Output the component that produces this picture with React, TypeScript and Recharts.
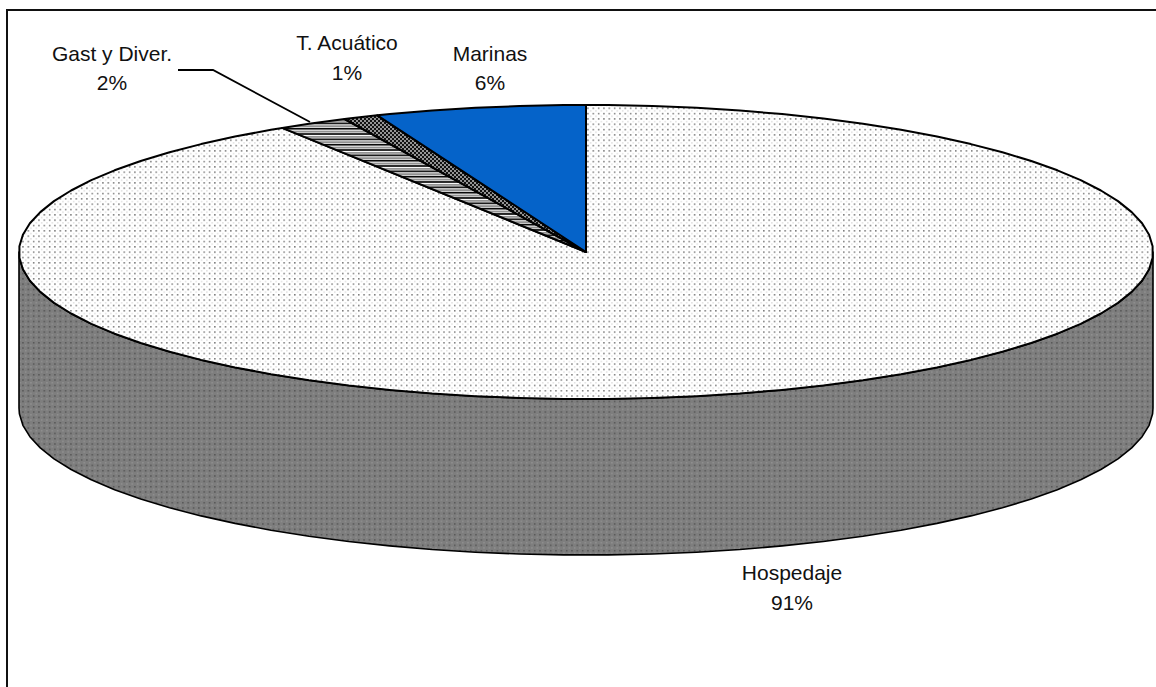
import React from 'react';
import { PieChart, Pie } from 'recharts';

const categories = ['Hospedaje', 'Gast y Diver.', 'T. Acuático', 'Marinas'];
const shares = [91, 2, 1, 6];

const chartData = categories.map((name, i) => ({ name, value: shares[i] }));

const WIDTH = 1156;
const HEIGHT = 687;
const CX = 586;
const CY = 252;
const RADIUS = 567;
const TILT = 147 / 567;
const DEPTH = 156;
// the rim is a polygon, with flat facets centred on the axes
const FACET = 4.5;
const FACET_SHIFT = 2.25;

const sliceFills = ['url(#dots)', 'url(#stripes)', 'url(#checks)', '#0563C9'];

// where each two-line label sits: centre x, first and second baseline
const labelSpots = [
  { x: 792, y1: 580, y2: 610 },
  { x: 112, y1: 61, y2: 90 },
  { x: 347, y1: 50, y2: 80 },
  { x: 490, y1: 61, y2: 90 },
];

const toPoint = (angle: number, yOffset = 0) => {
  const rad = (angle * Math.PI) / 180;
  const x = CX + RADIUS * Math.cos(rad);
  const y = CY + yOffset - RADIUS * TILT * Math.sin(rad);
  return `${x.toFixed(1)},${y.toFixed(1)}`;
};

const rimPoints = (from: number, to: number, yOffset = 0) => {
  const pts = [toPoint(from, yOffset)];
  const dir = to < from ? -1 : 1;
  const steps = (from - FACET_SHIFT) / FACET;
  let a = (dir < 0 ? Math.floor(steps) : Math.ceil(steps)) * FACET + FACET_SHIFT;
  if (a === from) a += dir * FACET;
  while (dir < 0 ? a > to : a < to) {
    pts.push(toPoint(a, yOffset));
    a += dir * FACET;
  }
  pts.push(toPoint(to, yOffset));
  return pts;
};

const TiltedSlice = (props: any) => {
  const { startAngle, endAngle, index } = props;
  const i = index ?? categories.indexOf(props.name);
  const wallFrom = Math.min(startAngle, 0);
  const wallTo = Math.max(endAngle, -180);
  const top = rimPoints(startAngle, endAngle);
  return (
    <g>
      {wallFrom > wallTo && (
        <path
          d={`M${[
            ...rimPoints(wallFrom, wallTo),
            ...rimPoints(wallTo, wallFrom, DEPTH),
          ].join('L')}Z`}
          fill="url(#wall)"
          stroke="#000"
          strokeWidth={1.6}
          strokeLinejoin="round"
        />
      )}
      <path
        d={`M${CX},${CY}L${top.join('L')}Z`}
        fill={sliceFills[i]}
        stroke="#000"
        strokeWidth={2}
        strokeLinejoin="round"
      />
    </g>
  );
};

const SliceLabel = (props: any) => {
  const { index } = props;
  const spot = labelSpots[index];
  return (
    <g>
      <text x={spot.x} y={spot.y1} textAnchor="middle" fontFamily="Liberation Sans" fontSize={21} fill="#111">
        {categories[index]}
      </text>
      <text x={spot.x} y={spot.y2} textAnchor="middle" fontFamily="Liberation Sans" fontSize={21} fill="#111">
        {shares[index]}%
      </text>
      {index === 1 && (
        <polyline points="178,70 213,70 310,122" fill="none" stroke="#000" strokeWidth={1.8} />
      )}
    </g>
  );
};

export default function App() {
  return (
    <div style={{ position: 'absolute', left: 0, top: 0, width: WIDTH, height: HEIGHT, background: '#fff', overflow: 'hidden' }}>
      <div style={{ position: 'absolute', left: 6, top: 9, right: 0, bottom: 0, borderTop: '2px solid #111', borderLeft: '2px solid #111' }} />
      <svg width={0} height={0} style={{ position: 'absolute' }}>
        <defs>
          <pattern id="dots" width={5.33} height={5.33} patternUnits="userSpaceOnUse">
            <rect width={5.33} height={5.33} fill="#fff" />
            <rect x={1} y={1} width={1.33} height={1.33} fill="#555" />
            <rect x={3.67} y={3.67} width={1.33} height={1.33} fill="#d8d8d8" />
          </pattern>
          <pattern id="wall" width={5.33} height={5.33} patternUnits="userSpaceOnUse">
            <rect width={5.33} height={5.33} fill="#7e7e7e" />
            <rect x={1} y={1} width={1.33} height={1.33} fill="#4a4a4a" />
            <rect x={3.67} y={3.67} width={1.33} height={1.33} fill="#969696" />
          </pattern>
          <pattern id="stripes" width={5.33} height={5.33} patternUnits="userSpaceOnUse">
            <rect width={5.33} height={5.33} fill="#fff" />
            <rect y={0} width={5.33} height={1.6} fill="#000" />
            <rect y={2.7} width={5.33} height={2} fill="#909090" />
          </pattern>
          <pattern id="checks" width={4} height={4} patternUnits="userSpaceOnUse">
            <rect width={4} height={4} fill="#111" />
            <rect x={0.2} y={0.2} width={1.6} height={1.6} fill="#ddd" />
            <rect x={2.2} y={2.2} width={1.6} height={1.6} fill="#ddd" />
          </pattern>
        </defs>
      </svg>
      <div style={{ position: 'absolute', left: 0, top: 0 }}>
        <PieChart width={WIDTH} height={HEIGHT} margin={{ top: 0, right: 0, bottom: 0, left: 0 }}>
          <Pie
            data={chartData}
            dataKey="value"
            nameKey="name"
            cx={CX}
            cy={CY}
            innerRadius={0}
            outerRadius={RADIUS}
            startAngle={90}
            endAngle={-270}
            stroke="none"
            shape={TiltedSlice}
            label={SliceLabel}
            labelLine={false}
            isAnimationActive={false}
          />
        </PieChart>
      </div>
    </div>
  );
}
